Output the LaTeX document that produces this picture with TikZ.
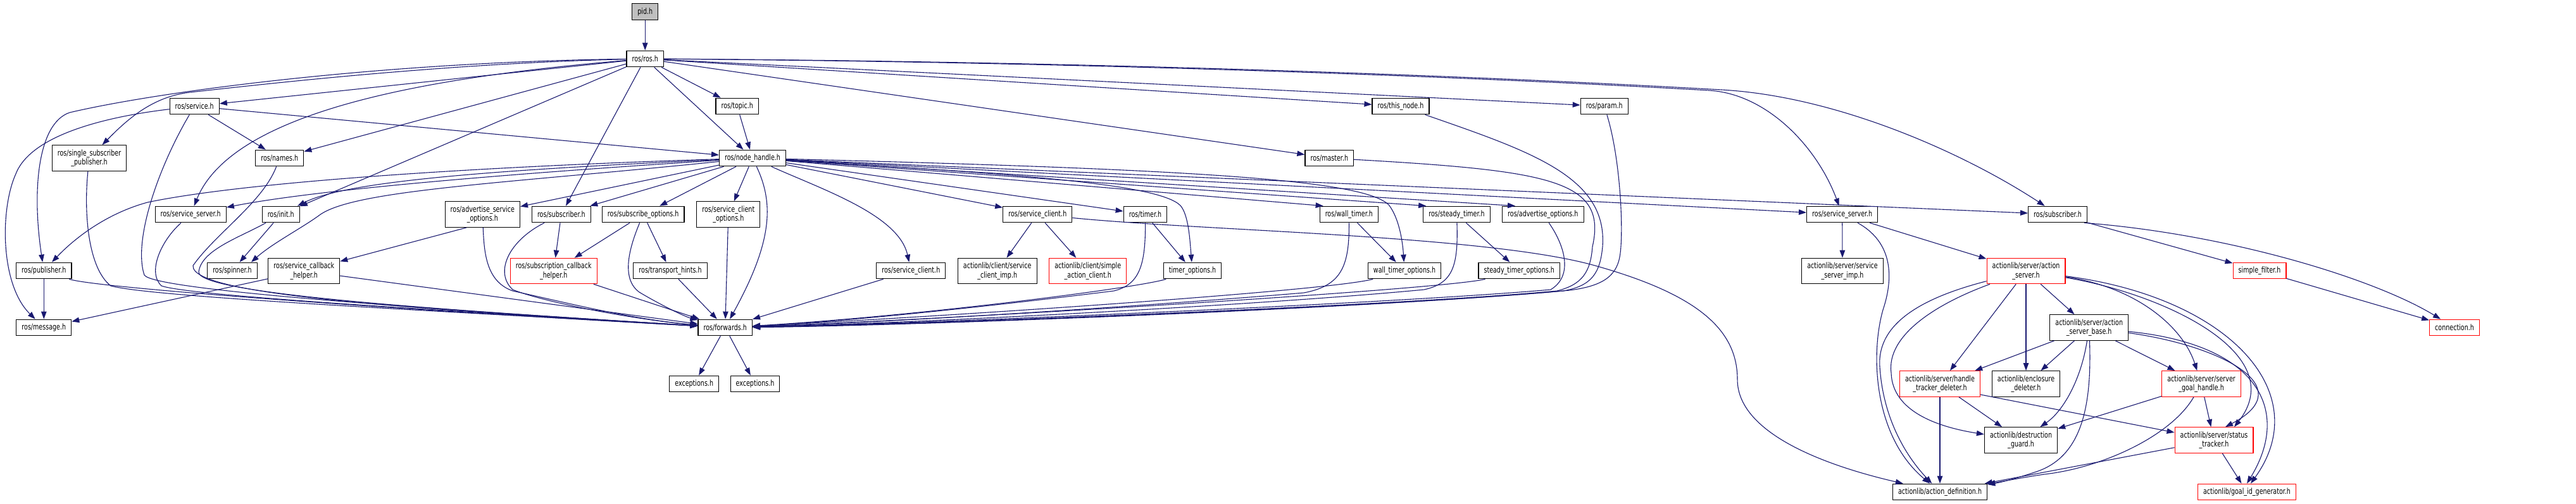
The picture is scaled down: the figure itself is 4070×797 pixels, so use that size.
\documentclass[tikz,border=0pt]{standalone}
\usepackage{fontspec}
\newfontfamily\graphfam{DejaVu Sans}[FakeStretch=0.745]
\usetikzlibrary{arrows.meta}
\definecolor{edgecol}{HTML}{191970}
\definecolor{pidfill}{HTML}{BFBFBF}
\newcommand{\graphfont}{\graphfam\fontsize{12.8}{14.3}\selectfont}
\begin{document}
\begin{tikzpicture}[x=1pt,y=-1pt,
  hdr/.style={draw=black, line width=1.1pt, fill=white, rectangle, inner xsep=8.6pt, inner ysep=2pt, minimum height=25.7pt, align=center, font=\graphfont},
  two/.style={minimum height=40.6pt},
  redb/.style={draw=red},
  inc/.style={draw=edgecol, line width=1.1pt, -{Triangle[length=12pt,width=8.5pt]}}]
\useasboundingbox (0,0) rectangle (4070,797);
\fill[white] (0,0) rectangle (4070,797);
% nodes
\node[hdr, fill=pidfill] (pid) at (1019.2,18.5) {pid.h};
\node[hdr] (ros) at (1019.2,93) {ros/ros.h};
\node[hdr] (service) at (307.2,168) {ros/service.h};
\node[hdr] (topic) at (1164.7,168) {ros/topic.h};
\node[hdr] (thisnode) at (2213,168) {ros/this\_node.h};
\node[hdr] (param) at (2534.7,168) {ros/param.h};
\node[hdr,two] (ssp) at (141,250) {ros/single\_subscriber\\\_publisher.h};
\node[hdr] (names) at (441.8,250) {ros/names.h};
\node[hdr] (nh) at (1189,250) {ros/node\_handle.h};
\node[hdr] (master) at (2100.3,250) {ros/master.h};
\node[hdr] (ssrvL) at (301.2,339) {ros/service\_server.h};
\node[hdr] (init) at (443.7,339) {ros/init.h};
\node[hdr,two] (aso) at (762.3,339) {ros/advertise\_service\\\_options.h};
\node[hdr] (subL) at (886.8,339) {ros/subscriber.h};
\node[hdr] (subopt) at (1016.2,339) {ros/subscribe\_options.h};
\node[hdr,two] (sco) at (1150.8,339) {ros/service\_client\\\_options.h};
\node[hdr] (scU) at (1639.3,339) {ros/service\_client.h};
\node[hdr] (timer) at (1809.5,339) {ros/timer.h};
\node[hdr] (wtimer) at (2131.3,339) {ros/wall\_timer.h};
\node[hdr] (stimer) at (2301.5,339) {ros/steady\_timer.h};
\node[hdr] (advopt) at (2437.8,339) {ros/advertise\_options.h};
\node[hdr] (ssrvR) at (2910.7,339) {ros/service\_server.h};
\node[hdr] (subR) at (3251,339) {ros/subscriber.h};
\node[hdr] (publisher) at (69.3,428) {ros/publisher.h};
\node[hdr] (spinner) at (367,428) {ros/spinner.h};
\node[hdr,two] (sch) at (480.3,428.5) {ros/service\_callback\\\_helper.h};
\node[hdr,two,redb] (subcb) at (874.7,428.5) {ros/subscription\_callback\\\_helper.h};
\node[hdr] (th) at (1059,428) {ros/transport\_hints.h};
\node[hdr] (scL) at (1439.3,428) {ros/service\_client.h};
\node[hdr,two] (acsci) at (1575.7,428.5) {actionlib/client/service\\\_client\_imp.h};
\node[hdr,two,redb] (acsac) at (1718.7,428.5) {actionlib/client/simple\\\_action\_client.h};
\node[hdr] (topt) at (1884,428) {timer\_options.h};
\node[hdr] (wtopt) at (2219,428) {wall\_timer\_options.h};
\node[hdr] (stopt) at (2400.2,428) {steady\_timer\_options.h};
\node[hdr,two] (assi) at (2911,428.5) {actionlib/server/service\\\_server\_imp.h};
\node[hdr,two,redb] (as) at (3201,428.5) {actionlib/server/action\\\_server.h};
\node[hdr,redb] (sf) at (3570,428) {simple\_filter.h};
\node[hdr] (message) at (69.3,518) {ros/message.h};
\node[hdr] (fwd) at (1145.7,518) {ros/forwards.h};
\node[hdr,two] (asb) at (3300.7,518) {actionlib/server/action\\\_server\_base.h};
\node[hdr,redb] (conn) at (3878,518) {connection.h};
\node[hdr] (exc1) at (1096.7,607) {exceptions.h};
\node[hdr] (exc2) at (1193,607) {exceptions.h};
\node[hdr,two,redb] (htd) at (3065,607) {actionlib/server/handle\\\_tracker\_deleter.h};
\node[hdr,two] (ed) at (3201,607) {actionlib/enclosure\\\_deleter.h};
\node[hdr,two,redb] (sgh) at (3478,607) {actionlib/server/server\\\_goal\_handle.h};
\node[hdr,two] (dg) at (3193,696) {actionlib/destruction\\\_guard.h};
\node[hdr,two,redb] (st) at (3498,696) {actionlib/server/status\\\_tracker.h};
\node[hdr] (ad) at (3065,778) {actionlib/action\_definition.h};
\node[hdr,redb] (gid) at (3550,778) {actionlib/goal\_id\_generator.h};
% from pid / ros
\draw[inc] (pid) -- (ros);
\draw[inc] (ros) -- (service);
\draw[inc] (ros) .. controls (700,100) and (400,135) .. (300,146) .. controls (240,153) and (200,190) .. (ssp);
\draw[inc] (ros) .. controls (600,98) and (250,145) .. (110,178) .. controls (60,195) and (50,300) .. (publisher);
\draw[inc] (ros) -- (names);
\draw[inc] (ros) .. controls (700,120) and (370,170) .. (ssrvL);
\draw[inc] (ros) -- (init);
\draw[inc] (ros) -- (subL);
\draw[inc] (ros) -- (nh);
\draw[inc] (ros) -- (topic);
\draw[inc] (ros) -- (thisnode);
\draw[inc] (ros) -- (param);
\draw[inc] (ros) -- (master);
\draw[inc] (ros) .. controls (1700,98) and (2300,120) .. (2700,143) .. controls (2790,148) and (2870,230) .. (ssrvR);
\draw[inc] (ros) .. controls (1700,97) and (2300,118) .. (2720,142) .. controls (2900,152) and (3100,240) .. (subR);
% service, ssp, names, topic
\draw[inc] (service) .. controls (180,183) and (50,210) .. (25,275) .. controls (0,330) and (0,450) .. (message);
\draw[inc] (service) .. controls (250,265) and (210,380) .. (228,435) .. controls (245,460) and (700,490) .. (fwd);
\draw[inc] (service) -- (names);
\draw[inc] (service) -- (nh);
\draw[inc] (ssp) .. controls (132,340) and (140,425) .. (175,452) .. controls (240,470) and (700,492) .. (fwd);
\draw[inc] (names) .. controls (415,320) and (340,370) .. (305,420) .. controls (300,470) and (700,490) .. (fwd);
\draw[inc] (topic) -- (nh);
% node_handle
\draw[inc] (nh) .. controls (800,275) and (500,300) .. (ssrvL);
\draw[inc] (nh) .. controls (800,268) and (550,285) .. (init);
\draw[inc] (nh) .. controls (800,262) and (400,285) .. (233,320) .. controls (160,340) and (110,385) .. (publisher);
\draw[inc] (nh) .. controls (800,290) and (560,300) .. (505,340) .. controls (478,360) and (430,385) .. ([xshift=-10pt]spinner.north east);
\draw[inc] (nh) -- (aso);
\draw[inc] (nh) -- (subL);
\draw[inc] (nh) -- (subopt);
\draw[inc] (nh) -- (sco);
\draw[inc] (nh) -- (scU);
\draw[inc] (nh) -- (timer);
\draw[inc] (nh) -- ([xshift=6pt]wtimer.north west);
\draw[inc] (nh) -- ([xshift=5pt]stimer.north west);
\draw[inc] (nh) -- ([xshift=21pt]advopt.north west);
\draw[inc] (nh) -- (ssrvR);
\draw[inc] (nh) -- (subR);
\draw[inc] (nh) .. controls (1222,320) and (1222,380) .. (fwd);
\draw[inc] (nh) .. controls (1300,300) and (1420,340) .. (scL);
\draw[inc] (nh) .. controls (1600,275) and (1830,290) .. (1865,325) .. controls (1878,340) and (1880,380) .. (topt);
\draw[inc] (nh) .. controls (1900,268) and (2160,285) .. (2195,325) .. controls (2210,345) and (2216,380) .. (wtopt);
% row 4 sources
\draw[inc] (scU) -- (acsci);
\draw[inc] (scU) -- (acsac);
\draw[inc] (scU) .. controls (1900,365) and (2350,372) .. (2520,420) .. controls (2680,465) and (2745,520) .. (2745,600) .. controls (2745,690) and (2900,740) .. (ad);
\draw[inc] (timer) -- (topt);
\draw[inc] (timer) .. controls (1810,420) and (1800,450) .. (1760,460) .. controls (1600,480) and (1350,508) .. (fwd);
\draw[inc] (wtimer) -- (wtopt);
\draw[inc] (wtimer) .. controls (2132,420) and (2120,452) .. (2060,463) .. controls (1800,485) and (1400,510) .. (fwd);
\draw[inc] (stimer) -- (stopt);
\draw[inc] (stimer) .. controls (2304,420) and (2296,448) .. (2250,458) .. controls (2000,482) and (1450,511) .. (fwd);
\draw[inc] (advopt) .. controls (2470,385) and (2488,435) .. (2450,458) .. controls (2200,480) and (1450,512) .. (fwd);
\draw[inc] (master) .. controls (2450,270) and (2540,285) .. (2516,390) .. controls (2513,430) and (2500,450) .. (2460,460) .. controls (2200,484) and (1450,513) .. (fwd);
\draw[inc] (thisnode) .. controls (2420,240) and (2540,280) .. (2532,390) .. controls (2528,432) and (2515,452) .. (2470,460) .. controls (2200,485) and (1450,514) .. (fwd);
\draw[inc] (param) .. controls (2560,250) and (2565,360) .. (2560,400) .. controls (2556,435) and (2535,452) .. (2480,459) .. controls (2200,486) and (1450,515) .. (fwd);
\draw[inc] (ssrvR) -- (assi);
\draw[inc] (ssrvR) .. controls (2985,380) and (2995,430) .. (2975,490) .. controls (2955,560) and (2960,690) .. (ad);
\draw[inc] (ssrvR) -- (as);
\draw[inc] (subR) -- (sf);
\draw[inc] ([xshift=-5pt]subR.south east) .. controls (3520,370) and (3750,440) .. (conn);
\draw[inc] (sf) -- (conn);
% action server
\draw[inc] (as) .. controls (3040,470) and (2965,510) .. (2970,580) .. controls (2975,660) and (3010,720) .. (ad);
\draw[inc] (as) .. controls (3060,480) and (2980,530) .. (2988,590) .. controls (2990,650) and (3060,675) .. (dg);
\draw[inc] (as) -- (htd);
\draw[inc] (as) -- (ed);
\draw[inc] (as) -- (asb);
\draw[inc] (as) .. controls (3380,455) and (3450,520) .. (sgh);
\draw[inc] (as) .. controls (3420,465) and (3620,560) .. ([xshift=32pt]st.north);
\draw[inc] (as) .. controls (3520,470) and (3660,620) .. ([xshift=6pt]gid.north);
\draw[inc] (asb) -- (htd);
\draw[inc] (asb) -- (ed);
\draw[inc] (asb) .. controls (3288,600) and (3260,650) .. (dg);
\draw[inc] (asb) .. controls (3305,640) and (3290,720) .. (3220,745) .. controls (3185,757) and (3160,763) .. (ad);
\draw[inc] (asb) -- (sgh);
\draw[inc] (asb) .. controls (3500,545) and (3640,610) .. ([xshift=18pt]st.north);
\draw[inc] (asb) .. controls (3570,545) and (3620,650) .. (gid.north);
\draw[inc] (sgh) -- (dg);
\draw[inc] (sgh) -- (st);
\draw[inc] (sgh) .. controls (3430,690) and (3320,740) .. (3230,750) .. controls (3190,756) and (3160,762) .. (ad);
\draw[inc] (htd) -- (ad);
\draw[inc] (htd) -- (dg);
\draw[inc] ([yshift=-17pt]htd.east) -- (st);
\draw[inc] (st) -- (ad);
\draw[inc] (st) -- (gid);
% left and middle rows
\draw[inc] (publisher) -- (message);
\draw[inc] (publisher) .. controls (150,455) and (600,488) .. (fwd);
\draw[inc] (ssrvL) .. controls (255,380) and (232,430) .. (255,452) .. controls (300,468) and (700,491) .. (fwd);
\draw[inc] (init) -- (spinner);
\draw[inc] (init) .. controls (380,375) and (318,395) .. (314,430) .. controls (312,465) and (700,490) .. (fwd);
\draw[inc] ([xshift=-25pt]aso.south) -- (sch);
\draw[inc] (aso) .. controls (765,400) and (768,445) .. (810,460) .. controls (900,480) and (1000,505) .. (fwd);
\draw[inc] (subL) -- (subcb);
\draw[inc] (subL) .. controls (805,380) and (780,430) .. (810,458) .. controls (860,478) and (1000,505) .. (fwd);
\draw[inc] (subopt) -- (subcb);
\draw[inc] (subopt) -- (th);
\draw[inc] (subopt) .. controls (995,390) and (980,440) .. (1010,462) .. controls (1040,480) and (1080,500) .. (fwd);
\draw[inc] (sco) -- (fwd);
\draw[inc] (sch) -- (message);
\draw[inc] (sch) -- (fwd);
\draw[inc] (subcb) -- (fwd);
\draw[inc] (th) -- (fwd);
\draw[inc] (scL) -- (fwd);
\draw[inc] (topt) .. controls (1800,455) and (1450,500) .. (fwd);
\draw[inc] (wtopt) .. controls (2100,460) and (1500,500) .. (fwd);
\draw[inc] (stopt) .. controls (2280,458) and (1500,505) .. (fwd);
\draw[inc] (fwd) -- (exc1);
\draw[inc] (fwd) -- (exc2);
\end{tikzpicture}
\end{document}
